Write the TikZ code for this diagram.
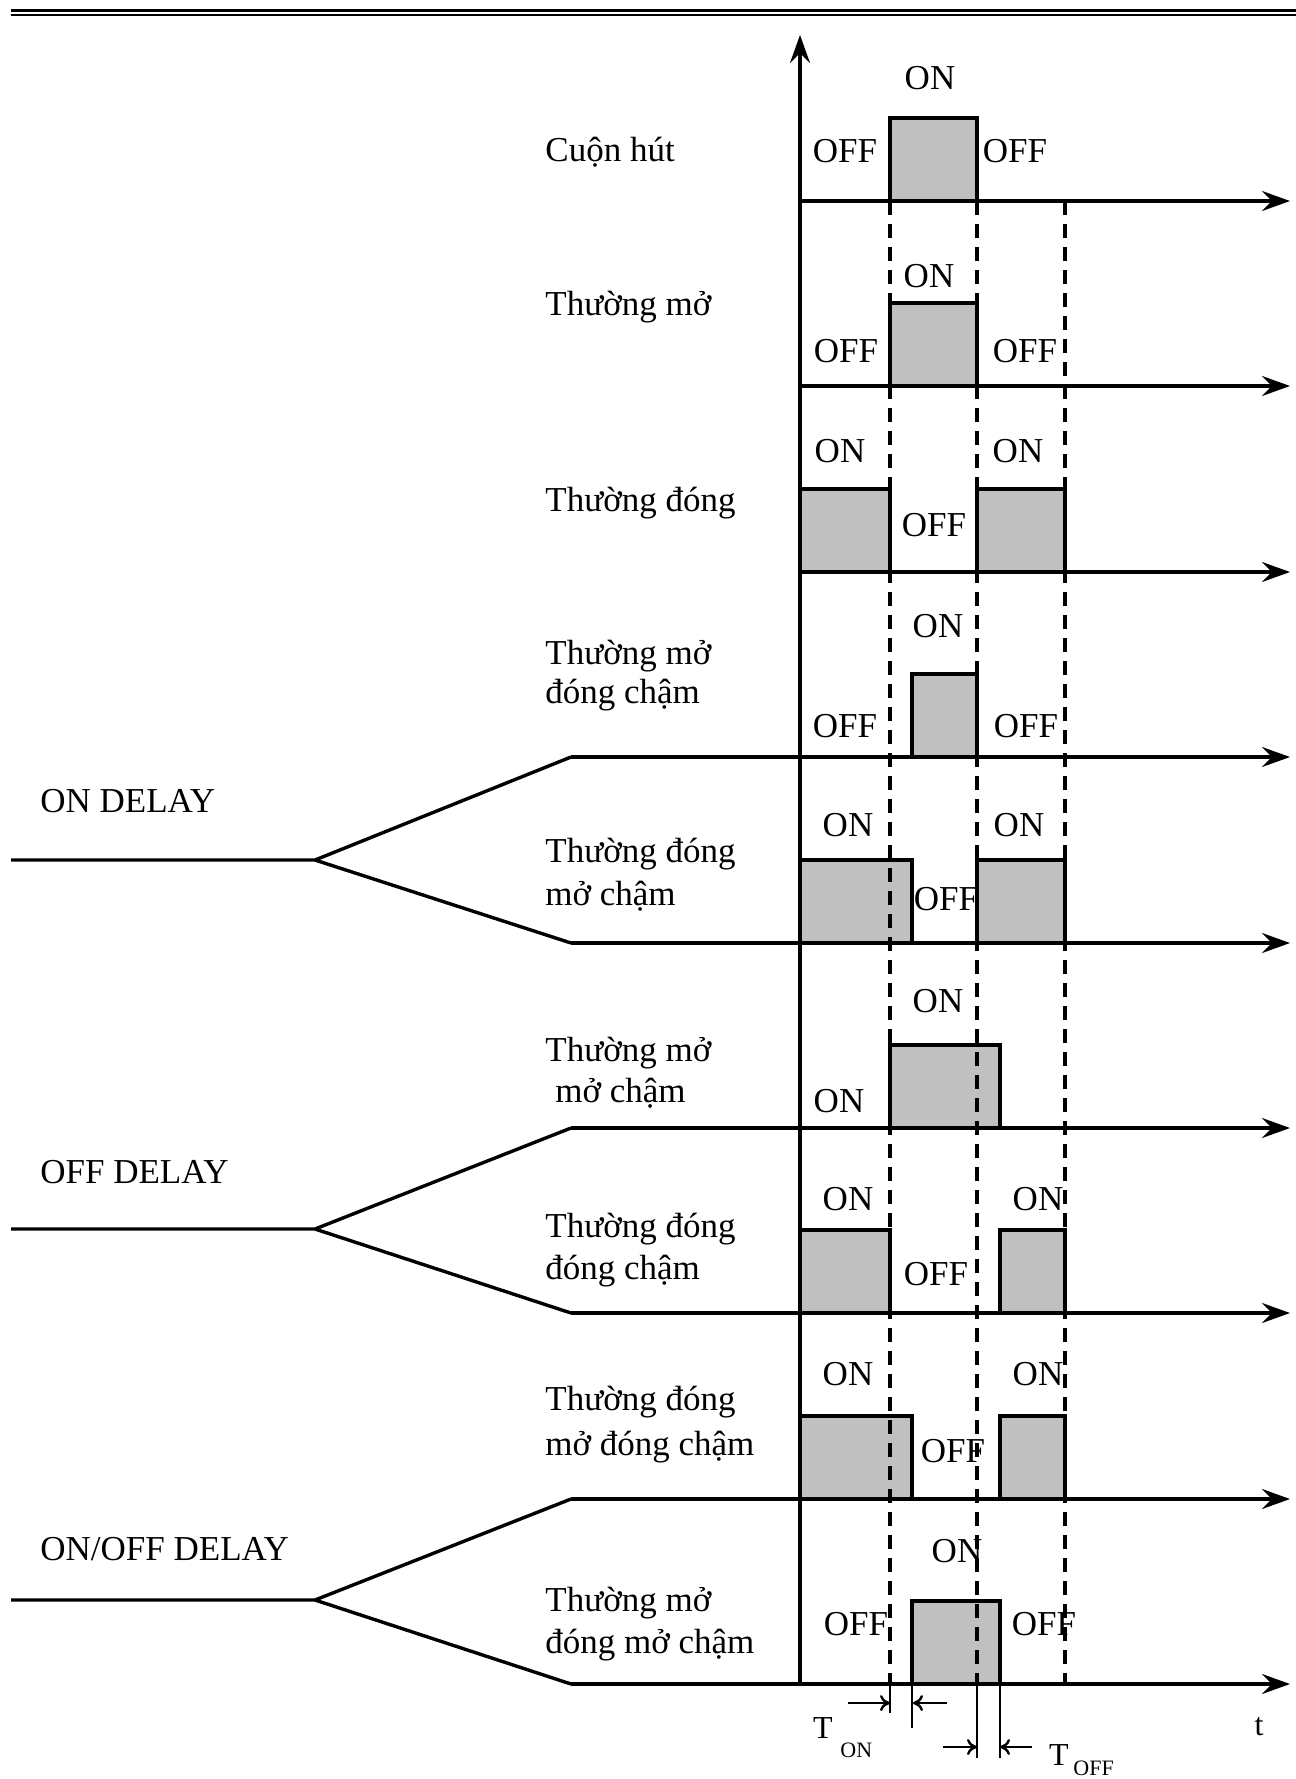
\documentclass[tikz,border=0pt]{standalone}
\usepackage{fontspec}
\setmainfont{Liberation Serif}
\usetikzlibrary{arrows.meta,positioning}
\definecolor{pulsegrey}{RGB}{192,192,192}
\tikzset{
  timeline/.style={line width=1.6pt,-{Stealth[length=14pt,width=10pt,inset=5pt]}},
  edge/.style={line width=1.7pt},
  pulse/.style={draw,line width=1.6pt,fill=pulsegrey},
  guide/.style={line width=1.6pt,dash pattern=on 7pt off 4.5pt},
  marker/.style={line width=1.2pt,-{To[length=5pt,width=8pt]}},
  rowlabel/.style={anchor=base west,inner sep=0pt,font=\fontsize{17.5pt}{21pt}\selectfont},
  state/.style={anchor=base,inner sep=0pt,font=\fontsize{17.5pt}{21pt}\selectfont},
  bigT/.style={anchor=base,inner sep=0pt,font=\fontsize{16pt}{19pt}\selectfont},
  subT/.style={anchor=base west,inner sep=0pt,font=\fontsize{11pt}{13pt}\selectfont}
}
\begin{document}
\begin{tikzpicture}[x=0.5pt,y=-0.5pt]
  \useasboundingbox (0,0) rectangle (1296,1779);
  % double rule on top
  \draw[line width=1.5pt] (11,10) -- (1296,10);
  \draw[line width=1pt] (11,15) -- (1296,15);

  % row names
  \node[rowlabel] (coil) at (545,161) {Cuộn hút};
  \node[rowlabel] (no) at (545,315) {Thường mở};
  \node[rowlabel] (nc) at (545,511) {Thường đóng};
  \node[rowlabel] (nodlyA) at (545,664) {Thường mở};
  \node[rowlabel] (nodlyB) at (545,703) {đóng chậm};
  \node[rowlabel] (ncdlyA) at (545,862) {Thường đóng};
  \node[rowlabel] (ncdlyB) at (545,905) {mở chậm};
  \node[rowlabel] (nooffA) at (545,1061) {Thường mở};
  \node[rowlabel] (nooffB) at (555,1102) {mở chậm};
  \node[rowlabel] (ncoffA) at (545,1237) {Thường đóng};
  \node[rowlabel] (ncoffB) at (545,1279) {đóng chậm};
  \node[rowlabel] (ncbothA) at (545,1410) {Thường đóng};
  \node[rowlabel] (ncbothB) at (545,1455) {mở đóng chậm};
  \node[rowlabel] (nobothA) at (545,1611) {Thường mở};
  \node[rowlabel] (nobothB) at (545,1653) {đóng mở chậm};

  % delay groups
  \node[rowlabel] (ondelay) at (40,812) {ON DELAY};
  \node[rowlabel] (offdelay) at (40,1183) {OFF DELAY};
  \node[rowlabel] (onoffdelay) at (40,1560) {ON/OFF DELAY};

  % states
  \node[state] (s0a) at (930,89) {ON};
  \node[state] (s0b) at (845,162) {OFF};
  \node[state] (s0c) at (1015,162) {OFF};
  \node[state] (s1a) at (929,287) {ON};
  \node[state] (s1b) at (846,362) {OFF};
  \node[state] (s1c) at (1025,362) {OFF};
  \node[state] (s2a) at (840,462) {ON};
  \node[state] (s2b) at (1018,462) {ON};
  \node[state] (s2c) at (934,536) {OFF};
  \node[state] (s3a) at (938,637) {ON};
  \node[state] (s3b) at (845,737) {OFF};
  \node[state] (s3c) at (1026,737) {OFF};
  \node[state] (s4a) at (848,836) {ON};
  \node[state] (s4b) at (1019,836) {ON};
  \node[state] (s4c) at (946,910) {OFF};
  \node[state] (s5a) at (938,1012) {ON};
  \node[state] (s5b) at (839,1112) {ON};
  \node[state] (s6a) at (848,1210) {ON};
  \node[state] (s6b) at (1038,1210) {ON};
  \node[state] (s6c) at (936,1285) {OFF};
  \node[state] (s7a) at (848,1385) {ON};
  \node[state] (s7b) at (1038,1385) {ON};
  \node[state] (s7c) at (953,1462) {OFF};
  \node[state] (s8a) at (957,1562) {ON};
  \node[state] (s8b) at (856,1635) {OFF};
  \node[state] (s8c) at (1044,1635) {OFF};

  % pulses
  \draw[pulse] (890,118) rectangle (977,201);
  \draw[pulse] (890,303) rectangle (977,386);
  \draw[pulse] (800,489) rectangle (890,572);
  \draw[pulse] (977,489) rectangle (1065,572);
  \draw[pulse] (912,674) rectangle (977,757);
  \draw[pulse] (800,860) rectangle (912,943);
  \draw[pulse] (977,860) rectangle (1065,943);
  \draw[pulse] (890,1045) rectangle (1000,1128);
  \draw[pulse] (800,1230) rectangle (890,1313);
  \draw[pulse] (1000,1230) rectangle (1065,1313);
  \draw[pulse] (800,1416) rectangle (912,1499);
  \draw[pulse] (1000,1416) rectangle (1065,1499);
  \draw[pulse] (912,1601) rectangle (1000,1684);

  % branches
  \coordinate (onin) at (11,860);
  \coordinate (onfork) at (315,860);
  \coordinate (offin) at (11,1229);
  \coordinate (offfork) at (315,1229);
  \coordinate (bothin) at (11,1600);
  \coordinate (bothfork) at (315,1600);
  \draw[edge] (onin) -- (onfork) -- (571,757);
  \draw[edge] (onfork) -- (571,943);
  \draw[edge] (offin) -- (offfork) -- (571,1128);
  \draw[edge] (offfork) -- (571,1313);
  \draw[edge] (bothin) -- (bothfork) -- (571,1499);
  \draw[edge] (bothfork) -- (571,1684);

  % time axes
  \draw[timeline] (800,201) -- (1290,201);
  \draw[timeline] (800,386) -- (1290,386);
  \draw[timeline] (800,572) -- (1290,572);
  \draw[timeline] (571,757) -- (1290,757);
  \draw[timeline] (571,943) -- (1290,943);
  \draw[timeline] (571,1128) -- (1290,1128);
  \draw[timeline] (571,1313) -- (1290,1313);
  \draw[timeline] (571,1499) -- (1290,1499);
  \draw[timeline] (571,1684) -- (1290,1684);
  \draw[timeline] (800,1684) -- (800,35);

  % guides
  \draw[guide] (890,201) -- (890,1684);
  \draw[guide] (977,201) -- (977,1684);
  \draw[guide] (1065,201) -- (1065,1684);

  % delay times
  \draw[line width=1.25pt] (890,1684) -- (890,1713);
  \draw[line width=1.25pt] (912,1684) -- (912,1728);
  \draw[line width=1.25pt] (977,1684) -- (977,1758);
  \draw[line width=1.25pt] (1000,1684) -- (1000,1758);
  \coordinate (tonL) at (848,1703);
  \coordinate (tonR) at (947,1703);
  \coordinate (toffL) at (943,1747);
  \coordinate (toffR) at (1032,1747);
  \draw[marker] (tonL) -- (890,1703);
  \draw[marker] (tonR) -- (913,1703);
  \draw[marker] (toffL) -- (977,1747);
  \draw[marker] (toffR) -- (1000,1747);
  \node[bigT] (ton) at (823,1738) {T};
  \node[subT] (tonsub) at (840,1757) {ON};
  \node[bigT] (toff) at (1059,1765) {T};
  \node[subT] (toffsub) at (1073,1775) {OFF};
  \node[bigT] (tlabel) at (1259,1735) {t};
\end{tikzpicture}
\end{document}
